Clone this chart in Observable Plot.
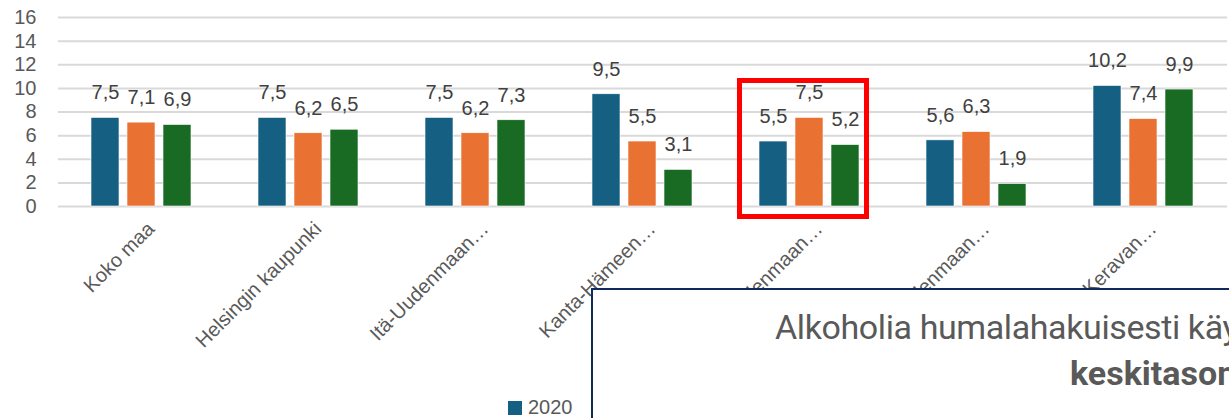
<!DOCTYPE html>
<html>
<head>
<meta charset="utf-8">
<script src="https://cdn.jsdelivr.net/npm/d3@7"></script>
<script src="https://cdn.jsdelivr.net/npm/@observablehq/plot@0.6"></script>
<style>
  html, body { margin: 0; padding: 0; background: #fff; }
  #wrap { position: relative; width: 1229px; height: 418px; overflow: hidden; background: #fff; font-family: "Liberation Sans", Arial, sans-serif; }
  #chart { position: absolute; left: 0; top: 0; }
  .leg { position: absolute; top: 396px; font-size: 20px; line-height: 22px; color: #595959; white-space: nowrap; }
  .leg span.sw { display: inline-block; width: 14px; height: 14px; margin-right: 6px; vertical-align: -1px; }
  #hl { position: absolute; left: 737px; top: 78px; width: 132px; height: 141px; border: 5px solid #ff0000; box-sizing: border-box; }
  #box { position: absolute; left: 591px; top: 288px; width: 800px; height: 300px; border: 2px solid #0f2a5c; background: #fff; box-sizing: border-box; }
  .bt { position: absolute; white-space: nowrap; color: #595959; font-family: Roboto, "Noto Sans", sans-serif; line-height: 40px; }
</style>
</head>
<body>
<div id="wrap">
  <div id="chart"></div>
  <div id="legend"></div>
  <div id="hl"></div>
  <div id="box"></div>
  <div class="bt" id="t1" style="left:775px; top:307px; font-size:34px; font-weight:400; letter-spacing:-0.4px;">Alkoholia humalahakuisesti käy</div>
  <div class="bt" id="t2" style="left:1070px; top:353px; font-size:34px; font-weight:700; letter-spacing:0px;">keskitason</div>
</div>
<script>
const categories = ["Koko maa", "Helsingin kaupunki", "Itä-Uudenmaan…", "Kanta-Hämeen…", "Keski-Uudenmaan…", "Länsi-Uudenmaan…", "Vantaan ja Keravan…"];
const series = ["2020", "2022", "2024"];
const colors = ["#156082", "#E97132", "#196B24"];
const values2020 = [7.5, 7.5, 7.5, 9.5, 5.5, 5.6, 10.2];
const values2022 = [7.1, 6.2, 6.2, 5.5, 7.5, 6.3, 7.4];
const values2024 = [6.9, 6.5, 7.3, 3.1, 5.2, 1.9, 9.9];
const yTicks = [0, 2, 4, 6, 8, 10, 12, 14, 16];

const seriesValues = [values2020, values2022, values2024];
const data = [];
categories.forEach((c, i) => {
  series.forEach((s, j) => data.push({cat: c, series: s, value: seriesValues[j][i]}));
});
const fmt = v => v.toFixed(1).replace(".", ",");

const chart = Plot.plot({
  width: 1229,
  height: 418,
  marginLeft: 56,
  marginRight: 0,
  marginTop: 17,
  marginBottom: 212,
  style: {fontFamily: '"Liberation Sans", Arial, sans-serif', fontSize: "20px", background: "transparent"},
  fx: {domain: categories, padding: 0, axis: null, label: null},
  x: {domain: series, paddingInner: 0.216, paddingOuter: 0.865, axis: null},
  y: {domain: [0, 16], axis: null},
  color: {domain: series, range: colors},
  marks: [
    Plot.gridY(yTicks, {stroke: "#d9d9d9", strokeWidth: 2, strokeOpacity: 1}),
    Plot.axisY(yTicks, {tickSize: 0, tickPadding: 22, fontSize: 20, fill: "#595959", tickFormat: d => String(d), label: null}),
    Plot.barY(data, {fx: "cat", x: "series", y: "value", fill: "series", stroke: "#ffffff", strokeWidth: 0.6}),
    Plot.text(data, {fx: "cat", x: "series", y: "value", text: d => fmt(d.value), dy: -25, fontSize: 20, fill: "#404040"}),
    Plot.text(categories, {fx: d => d, frameAnchor: "bottom", text: d => d, rotate: -45, textAnchor: "end", lineAnchor: "middle", dx: 9, dy: 19, fontSize: 20, fill: "#595959"})
  ]
});
document.getElementById("chart").appendChild(chart);

const legend = document.getElementById("legend");
const legX = [508, 602, 696];
series.forEach((s, i) => {
  const d = document.createElement("div");
  d.className = "leg";
  d.style.left = legX[i] + "px";
  d.innerHTML = `<span class="sw" style="background:${colors[i]}"></span>${s}`;
  legend.appendChild(d);
});
</script>
</body>
</html>
